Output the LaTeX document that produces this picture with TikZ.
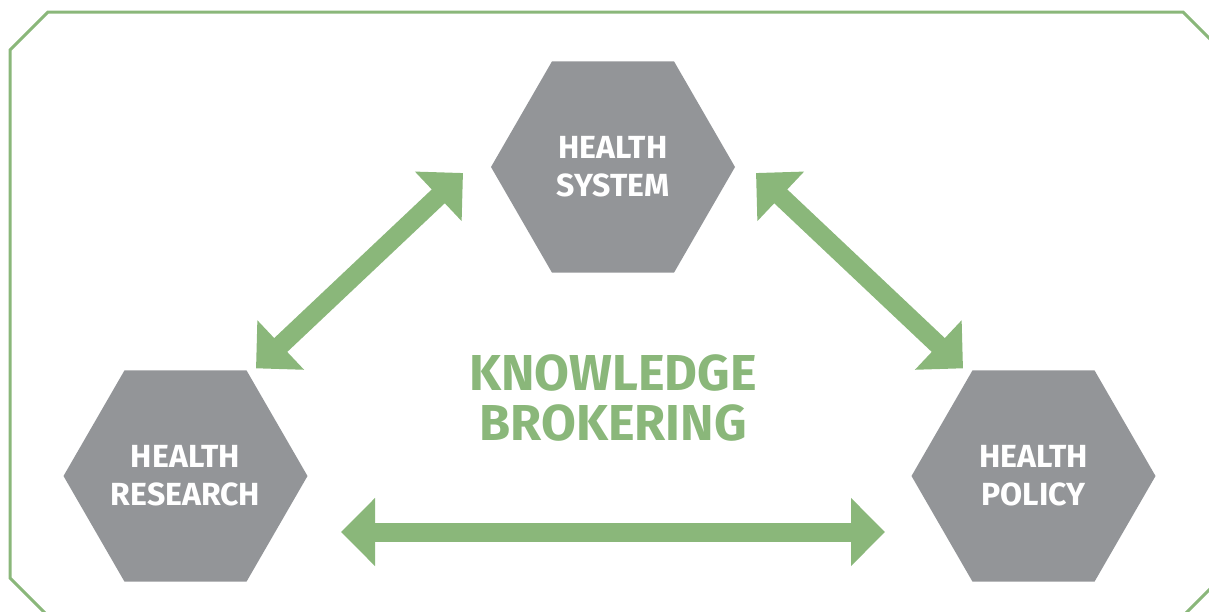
\documentclass[tikz,border=0pt]{standalone}
\usepackage{fontspec}
\setmainfont{Fira Sans}
\usepackage{tikz}
\usetikzlibrary{positioning, arrows.meta, shapes.geometric}

\definecolor{kbgreen}{HTML}{8AB77A}
\definecolor{kbgrey}{HTML}{939598}

\begin{document}
\begin{tikzpicture}[x=1pt, y=-1pt,
    hexbox/.style={regular polygon, regular polygon sides=6, minimum size=244pt,
        inner sep=0pt, outer sep=0pt, fill=kbgrey, text=white, align=center,
        font=\bfseries\fontsize{32}{38}\selectfont},
    link/.style={kbgreen, line width=19pt,
        {Triangle[length=34pt, width=66pt]}-{Triangle[length=34pt, width=66pt]}}
]
\useasboundingbox (0,0) rectangle (1209,611);
\clip (0,0) rectangle (1209,611);

% outer frame with cut corners
\draw[kbgreen, line width=3pt] (48,12) -- (1183,12) -- (1221,50) -- (1221,578)
    -- (1183,616) -- (48,616) -- (10,578) -- (10,50) -- cycle;

\node[hexbox] (system) at (613,167) {HEALTH\\SYSTEM};
\node[hexbox] (research) at (185.5,476) {HEALTH\\RESEARCH};
\node[hexbox] (policy) at (1033.5,476) {HEALTH\\POLICY};

\node[text=kbgreen, align=center, font=\bfseries\fontsize{50.5}{50}\selectfont] (kb) at (613,398) {KNOWLEDGE\\BROKERING};

\draw[link] ([shift={(70.5,-2)}]research.north) -- ([shift={(-28,6)}]system.west);
\draw[link] ([shift={(21,6)}]system.east) -- ([shift={(-70.5,-2)}]policy.north);
\draw[link] ([shift={(33.5,56)}]research.east) -- ([shift={(-26.5,56)}]policy.west);

\end{tikzpicture}
\end{document}
